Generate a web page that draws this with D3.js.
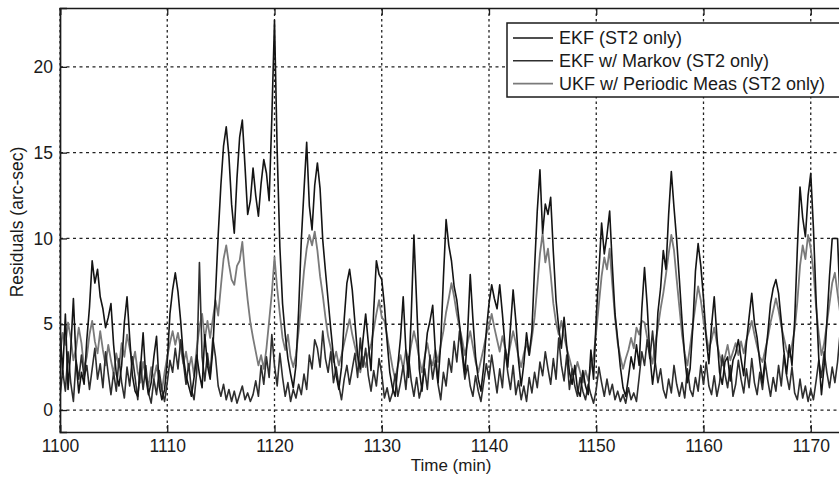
<!DOCTYPE html>
<html>
<head>
<meta charset="utf-8">
<script src="https://cdn.jsdelivr.net/npm/d3@7"></script>
<style>
body { margin: 0; background: #fff; }
text { font-family: "Liberation Sans", Arial, sans-serif; fill: #1a1a1a; }
</style>
</head>
<body>
<div id="chart"></div>
<script>
var svgWidth = 839;
var svgHeight = 477;

// time axis starts at 1100 min, one sample every 0.25 min
var tStart = 1100;
var tStep = 0.25;

var xTicks = [1100, 1110, 1120, 1130, 1140, 1150, 1160, 1170];
var xGrid = [1100, 1110, 1120, 1130, 1140, 1150, 1160, 1170, 1180];
var yTicks = [0, 5, 10, 15, 20];

var seriesNames = ["EKF (ST2 only)", "EKF w/ Markov (ST2 only)", "UKF w/ Periodic Meas (ST2 only)"];

// EKF (ST2 only)
var ekf = [
  4.8, 2.1, 5.6, 1.2,  3.5, 6.5, 2.8, 1.0,  2.2, 1.5, 4.1, 6.0,  8.7, 7.4, 8.2, 6.6,
  5.9, 4.8, 5.4, 6.2,  3.8, 2.1, 1.4, 2.6,  5.1, 6.6, 4.2, 2.0,  1.1, 0.8, 2.4, 4.5,
  1.9, 0.9, 1.6, 3.1,  4.3, 1.4, 0.6, 1.2,  2.8, 5.6, 7.0, 8.0,  6.9, 5.2, 3.1, 2.0,
  1.4, 0.8, 1.9, 3.2,  2.1, 1.3, 4.4, 2.6,  1.8, 3.5, 6.8, 10.2, 13.1, 15.4, 16.5, 14.8,
  12.0, 10.3, 13.5, 15.9, 16.9, 14.2, 11.4, 12.2, 14.1, 12.5, 11.3, 13.2, 14.6, 13.8, 12.2, 17.0,
  22.7, 15.1, 9.5, 6.2,  4.4, 3.0, 2.1, 1.3,  2.6, 5.8, 9.9, 12.8,  15.6, 11.9, 10.5, 13.1,
  14.4, 12.9, 9.9, 8.1,  6.4, 4.7, 3.1, 2.0,  1.2, 2.5, 5.3, 7.4,  8.2, 7.0, 5.1, 3.2,
  2.4, 4.1, 5.6, 3.9,  2.3, 5.8, 8.7, 7.9,  7.6, 6.1, 4.0, 2.2,  1.3, 0.8, 2.6, 4.2,
  6.6, 3.5, 1.9, 5.5,  10.2, 6.3, 2.4, 1.1,  2.9, 4.5, 5.2, 6.1,  3.4, 1.6, 3.9, 7.7,
  11.1, 9.6, 8.7, 7.2,  6.4, 5.0, 3.6, 2.1,  4.4, 7.9, 5.3, 3.1,  1.8, 1.1, 2.5, 4.6,
  6.2, 7.3, 6.5, 5.9,  7.3, 5.6, 3.7, 2.5,  4.8, 7.0, 5.2, 2.9,  1.4, 2.7, 4.5, 3.2,
  4.6, 8.3, 11.6, 14.0,  10.3, 12.0, 11.4, 12.4,  9.2, 6.4, 4.8, 3.6,  5.4, 3.7, 2.2, 1.5,
  2.6, 1.2, 0.8, 2.3,  1.4, 0.9, 3.5, 1.8,  5.4, 8.1, 10.9, 9.1,  10.2, 11.6, 8.4, 5.6,
  4.1, 2.5, 1.3, 0.8,  1.9, 3.1, 2.4, 3.8,  2.6, 5.9, 8.3, 6.1,  3.2, 1.5, 2.8, 5.7,
  7.1, 9.3, 8.2, 11.4,  13.9, 11.8, 9.9, 7.6,  5.2, 3.1, 1.6, 2.4,  4.8, 8.1, 9.7, 8.4,
  6.5, 4.2, 2.7, 4.9,  6.6, 4.3, 2.2, 1.5,  2.8, 3.1, 1.7, 2.9,  3.3, 4.1, 3.0, 2.0,
  3.9, 5.4, 6.8, 5.1,  4.2, 2.8, 1.6, 3.0,  4.5, 6.2, 7.1, 7.6,  6.8, 5.2, 3.4, 2.1,
  3.8, 2.6, 5.2, 9.4,  13.0, 11.2, 10.1, 12.5,  13.8, 10.6, 6.4, 3.0,  0.9, 2.6, 5.1, 7.8,
  10.0, 10.0, 10.0, 6.0,  5.0
];

// EKF w/ Markov (ST2 only)
var ekfMarkov = [
  0.8, 2.3, 1.1, 3.4,  1.6, 0.5, 2.9, 1.8,  3.2, 1.9, 2.6, 1.2,  2.4, 3.6, 1.8, 2.7,
  1.3, 3.4, 2.1, 0.9,  2.2, 1.1, 3.0, 1.6,  0.7, 2.5, 1.4, 3.1,  1.9, 0.6, 2.8, 1.2,
  2.6, 1.0, 0.4, 1.8,  0.9, 2.3, 1.2, 0.5,  1.6, 2.9, 2.2, 3.6,  2.4, 4.1, 2.8, 1.5,
  2.7, 1.2, 0.6, 2.2,  8.6, 3.1, 1.7, 3.3,  2.0, 4.2, 3.1, 1.4,  0.8, 1.5, 0.6, 1.2,
  0.5, 1.1, 0.4, 0.9,  1.4, 0.6, 1.0, 0.5,  0.9, 1.7, 0.8, 2.6,  1.5, 3.1, 1.9, 4.4,
  2.6, 1.4, 3.3, 1.9,  0.8, 1.6, 0.5, 1.2,  0.7, 1.5, 0.9, 2.1,  1.2, 3.2, 2.4, 4.1,
  3.6, 2.5, 4.6, 3.0,  2.2, 3.4, 1.6, 2.5,  1.4, 0.6, 1.8, 2.6,  1.5, 2.4, 3.3, 1.9,
  4.2, 2.5, 3.6, 2.0,  1.1, 2.3, 1.4, 3.0,  2.1, 0.7, 1.3, 0.5,  1.0, 2.1, 0.8, 1.6,
  2.6, 1.2, 3.1, 1.7,  0.8, 1.9, 0.7, 1.4,  2.4, 1.2, 3.2, 1.8,  2.9, 1.5, 0.6, 2.2,
  1.4, 3.0, 2.2, 4.0,  2.8, 4.6, 3.2, 1.8,  2.6, 1.4, 0.8, 2.0,  1.1, 0.5, 1.6, 2.7,
  1.8, 3.2, 2.1, 1.0,  2.4, 1.3, 3.5, 2.2,  1.2, 2.6, 0.9, 1.7,  0.6, 1.4, 0.5, 1.9,
  1.0, 2.2, 1.3, 2.8,  2.0, 3.4, 2.4, 1.5,  3.0, 1.8, 4.2, 2.6,  1.7, 3.2, 1.2, 2.4,
  1.4, 0.8, 1.9, 1.1,  0.6, 1.5, 0.9, 0.4,  1.2, 2.5, 1.6, 0.8,  1.8, 0.9, 1.5, 0.6,
  1.1, 0.5, 0.9, 0.4,  1.3, 0.6, 1.0, 0.5,  1.9, 3.4, 2.6, 4.1,  3.0, 4.6, 2.8, 1.6,
  2.4, 1.2, 0.7, 1.8,  1.0, 2.6, 1.5, 0.8,  1.6, 0.7, 2.4, 1.2,  0.8, 1.9, 1.1, 2.6,
  1.5, 2.8, 1.4, 0.9,  2.0, 0.8, 1.6, 3.2,  2.1, 1.3, 2.6, 0.8,  1.5, 2.9, 1.8, 1.0,
  2.4, 1.3, 3.0, 1.6,  0.9, 2.2, 1.2, 2.8,  1.7, 0.8, 1.9, 1.1,  2.6, 1.4, 3.2, 2.0,
  1.2, 2.5, 1.0, 0.6,  1.8, 0.7, 1.4, 0.5,  1.2, 0.6, 1.7, 2.9,  1.9, 3.4, 2.2, 1.3,
  2.5, 1.6, 2.8, 4.6,  5.0
];

// UKF w/ Periodic Meas (ST2 only)
var ukf = [
  3.2, 4.5, 3.8, 5.1,  4.2, 2.9, 3.6, 4.8,  3.9, 2.4, 3.1, 4.4,  5.2, 4.0, 3.3, 4.6,
  3.5, 2.6, 3.8, 2.9,  2.1, 3.3, 2.5, 3.9,  3.1, 4.4, 3.6, 2.7,  3.4, 2.2, 1.6, 2.8,
  2.0, 1.4, 2.5, 1.8,  2.6, 1.7, 1.1, 2.2,  3.1, 3.9, 4.6, 3.8,  4.5, 3.6, 2.7, 3.4,
  2.4, 3.1, 2.0, 3.6,  4.8, 5.6, 4.1, 5.2,  4.2, 5.3, 6.4, 5.5,  7.2, 8.8, 9.6, 8.5,
  7.6, 7.3, 8.4, 8.7,  9.8, 7.9, 6.4, 5.1,  4.2, 3.4, 2.6, 3.2,  2.4, 3.6, 5.2, 6.8,
  8.9, 7.1, 5.6, 4.2,  3.5, 4.4, 3.1, 2.5,  3.2, 4.6, 6.3, 8.1,  9.4, 10.2, 9.6, 10.4,
  9.3, 7.8, 6.7, 5.4,  4.3, 3.6, 2.8, 3.4,  2.6, 3.2, 3.9, 4.6,  5.3, 4.4, 3.7, 3.0,
  2.2, 3.1, 2.5, 3.3,  3.8, 4.7, 5.6, 6.4,  5.4, 5.2, 4.3, 3.4,  2.5, 1.8, 2.6, 3.2,
  2.4, 3.5, 2.9, 3.8,  4.6, 3.9, 3.0, 2.2,  3.1, 3.9, 3.0, 2.6,  3.5, 2.8, 3.8, 4.6,
  5.7, 6.5, 7.4, 6.6,  5.6, 4.8, 4.1, 3.2,  3.9, 4.6, 3.7, 2.8,  2.2, 2.9, 3.6, 4.4,
  4.9, 5.6, 4.8, 4.1,  3.4, 4.3, 3.6, 3.0,  3.8, 4.6, 3.9, 3.1,  2.5, 3.3, 3.9, 3.2,
  4.2, 5.4, 7.2, 9.1,  10.3, 8.6, 9.4, 7.9,  6.2, 5.1, 4.4, 5.2,  4.3, 3.6, 3.0, 2.4,
  2.1, 2.8, 2.2, 1.6,  2.3, 1.7, 2.5, 3.1,  4.6, 6.2, 7.8, 8.9,  8.2, 9.4, 7.3, 5.4,
  3.9, 3.1, 2.4, 3.0,  3.5, 4.2, 3.6, 4.8,  4.4, 5.2, 5.1, 4.2,  3.4, 2.7, 3.9, 4.8,
  5.9, 6.8, 7.9, 9.1,  10.2, 9.3, 7.6, 6.0,  4.4, 3.3, 2.6, 3.7,  4.9, 6.1, 7.2, 6.4,
  5.2, 4.4, 3.5, 4.1,  4.8, 3.9, 3.2, 2.6,  3.1, 3.8, 2.9, 3.4,  3.9, 3.2, 4.0, 3.3,
  4.1, 4.6, 5.2, 4.4,  3.7, 3.1, 2.8, 3.5,  4.2, 5.1, 5.8, 6.5,  5.8, 4.9, 4.2, 3.5,
  3.1, 3.8, 4.7, 6.3,  8.4, 9.6, 8.8, 10.2,  9.4, 8.1, 6.0, 4.4,  3.2, 3.9, 5.0, 6.2,
  7.4, 8.0, 6.8, 5.6,  5.0
];

var seriesColors = ["#141414", "#2e2e2e", "#7a7a7a"];
var seriesData = [ekf, ekfMarkov, ukf];

var margin = { top: 8, left: 60, bottom: 45 };
var plotRight = 918;
var plotBottom = svgHeight - margin.bottom;

var svg = d3.select("#chart")
  .append("svg")
  .attr("width", svgWidth)
  .attr("height", svgHeight);

var xScale = d3.scaleLinear()
  .domain([1100, 1180])
  .range([margin.left, plotRight]);

var yScale = d3.scaleLinear()
  .domain([-1.28, 23.43])
  .range([plotBottom, margin.top]);

svg.append("clipPath")
  .attr("id", "plotClip")
  .append("rect")
  .attr("x", margin.left)
  .attr("y", margin.top)
  .attr("width", plotRight - margin.left)
  .attr("height", plotBottom - margin.top);

// dotted grid
var grid = svg.append("g");
grid.selectAll(".vgrid")
  .data(xGrid)
  .enter()
  .append("line")
  .attr("x1", d => xScale(d))
  .attr("x2", d => xScale(d))
  .attr("y1", margin.top)
  .attr("y2", plotBottom)
  .attr("stroke", "#222")
  .attr("stroke-width", 1.3)
  .attr("stroke-dasharray", "2.5,3");

grid.selectAll(".hgrid")
  .data(yTicks)
  .enter()
  .append("line")
  .attr("x1", margin.left)
  .attr("x2", plotRight)
  .attr("y1", d => yScale(d))
  .attr("y2", d => yScale(d))
  .attr("stroke", "#222")
  .attr("stroke-width", 1.3)
  .attr("stroke-dasharray", "3,3.5");

// series lines, light one first
var line = d3.line()
  .x((d, i) => xScale(tStart + i * tStep))
  .y(d => yScale(d));

var lines = svg.append("g").attr("clip-path", "url(#plotClip)");
[2, 1, 0].forEach(function(k) {
  lines.append("path")
    .datum(seriesData[k])
    .attr("fill", "none")
    .attr("stroke", seriesColors[k])
    .attr("stroke-width", k == 2 ? 1.8 : 1.6)
    .attr("stroke-linejoin", "round")
    .attr("d", line);
});

// axes, inward ticks like matlab
var bottomAxis = d3.axisBottom(xScale).tickValues(xTicks).tickSize(-7).tickPadding(8).tickFormat(d3.format("d"));
var topAxis = d3.axisTop(xScale).tickValues(xTicks).tickSize(-7).tickFormat("");
var leftAxis = d3.axisLeft(yScale).tickValues(yTicks).tickSize(-7).tickPadding(7);

var xAxis = svg.append("g")
  .attr("transform", `translate(0, ${plotBottom})`)
  .call(bottomAxis);

svg.append("g")
  .attr("transform", `translate(0, ${margin.top})`)
  .call(topAxis);

var yAxis = svg.append("g")
  .attr("transform", `translate(${margin.left}, 0)`)
  .call(leftAxis);

svg.selectAll(".domain")
  .attr("stroke", "#1a1a1a")
  .attr("stroke-width", 1.7);
svg.selectAll(".tick line")
  .attr("stroke", "#1a1a1a")
  .attr("stroke-width", 1.3);
svg.selectAll(".tick text")
  .style("font-size", "17.5px")
  .attr("fill", "#1a1a1a");

// axis titles
svg.append("text")
  .attr("x", 451)
  .attr("y", 471)
  .attr("text-anchor", "middle")
  .style("font-size", "17px")
  .text("Time (min)");

svg.append("text")
  .attr("transform", `translate(23, 222) rotate(-90)`)
  .attr("text-anchor", "middle")
  .style("font-size", "17.5px")
  .text("Residuals (arc-sec)");

// legend
var legend = svg.append("g");
legend.append("rect")
  .attr("x", 507)
  .attr("y", 23)
  .attr("width", 360)
  .attr("height", 74)
  .attr("fill", "#fff")
  .attr("stroke", "#1a1a1a")
  .attr("stroke-width", 1.5);

var legendRows = legend.selectAll(".legend-row")
  .data(seriesNames)
  .enter()
  .append("g")
  .attr("transform", (d, i) => `translate(0, ${38 + i * 22.8})`);

legendRows.append("line")
  .attr("x1", 513)
  .attr("x2", 553)
  .attr("y1", 0)
  .attr("y2", 0)
  .attr("stroke", (d, i) => seriesColors[i])
  .attr("stroke-width", 1.6);

legendRows.append("text")
  .attr("x", 559)
  .attr("y", 6)
  .style("font-size", "18px")
  .text(d => d);
</script>
</body>
</html>
